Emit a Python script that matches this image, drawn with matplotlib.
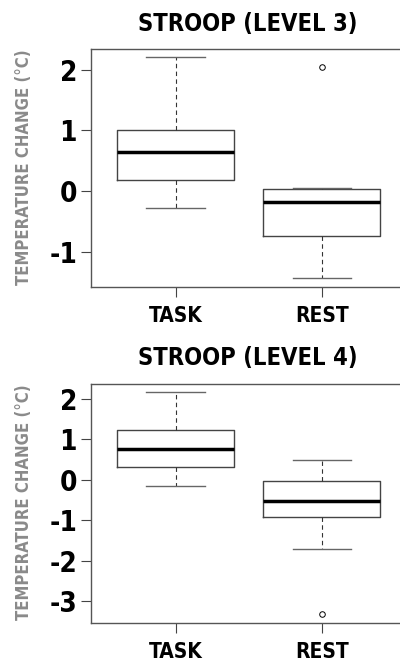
import matplotlib
matplotlib.use("Agg")
import matplotlib.pyplot as plt
from matplotlib import font_manager

# box summaries (R-style boxplots)
groups = ["TASK", "REST"]

lvl3_whislo = [-0.275, -1.44]
lvl3_q1 = [0.175, -0.735]
lvl3_med = [0.65, -0.18]
lvl3_q3 = [1.0, 0.03]
lvl3_whishi = [2.2, 0.05]
lvl3_fliers = [[], [2.05]]

lvl4_whislo = [-0.157, -1.713]
lvl4_q1 = [0.313, -0.923]
lvl4_med = [0.766, -0.527]
lvl4_q3 = [1.22, -0.033]
lvl4_whishi = [2.158, 0.486]
lvl4_fliers = [[], [-3.32]]

# pick the narrowest bold face we can find
have = {(f.name, f.stretch) for f in font_manager.fontManager.ttflist}
names = {n for n, _ in have}
if "Liberation Sans Narrow" in names:
    FAM, STRETCH = "Liberation Sans Narrow", "normal"
elif ("DejaVu Sans", "condensed") in have or ("DejaVu Sans", 75) in have:
    FAM, STRETCH = "DejaVu Sans", "condensed"
else:
    FAM, STRETCH = "Liberation Sans", "normal"
plt.rcParams["font.family"] = [FAM, "DejaVu Sans"]
plt.rcParams["font.stretch"] = STRETCH
plt.rcParams["font.weight"] = "bold"


def make_stats(lo, q1, med, q3, hi, fl):
    return [dict(label=groups[i], whislo=lo[i], q1=q1[i], med=med[i],
                 q3=q3[i], whishi=hi[i], fliers=fl[i]) for i in range(len(groups))]


def panel(ax, stats, ylim, yticks):
    ax.bxp(stats, positions=[1, 2], widths=0.8, capwidths=0.4,
           boxprops=dict(color="#444444", linewidth=1.0),
           whiskerprops=dict(color="#333333", linewidth=0.8, linestyle=(0, (4, 3))),
           capprops=dict(color="#666666", linewidth=1.0),
           medianprops=dict(color="black", linewidth=2.5),
           flierprops=dict(marker="o", markersize=4, markerfacecolor="none",
                           markeredgecolor="black", markeredgewidth=0.7))
    ax.set_xlim(0.42, 2.58)
    ax.set_ylim(*ylim)
    ax.set_yticks(yticks)
    ax.set_yticklabels([str(t) for t in yticks], fontsize=20, fontweight="bold",
                       fontstretch=STRETCH)
    ax.set_xticks([1, 2])
    ax.set_xticklabels(groups, fontsize=15, fontweight="bold", fontstretch=STRETCH)
    for s in ax.spines.values():
        s.set_visible(True)
        s.set_color("#555555")
        s.set_linewidth(1.0)
    ax.tick_params(axis="y", length=7, width=0.8, color="#444444", pad=3)
    ax.tick_params(axis="x", length=7, width=0.8, color="#444444", pad=7)


fig = plt.figure(figsize=(4, 6.61), dpi=100)

ax1 = fig.add_axes([0.2275, 0.5663, 0.7885, 0.3596])
panel(ax1, make_stats(lvl3_whislo, lvl3_q1, lvl3_med, lvl3_q3, lvl3_whishi, lvl3_fliers),
      (-1.577, 2.34), [-1, 0, 1, 2])

ax2 = fig.add_axes([0.2275, 0.0579, 0.7885, 0.3611])
panel(ax2, make_stats(lvl4_whislo, lvl4_q1, lvl4_med, lvl4_q3, lvl4_whishi, lvl4_fliers),
      (-3.534, 2.364), [-3, -2, -1, 0, 1, 2])

fig.text(0.62, 1 - 24 / 661, "STROOP (LEVEL 3)", ha="center", va="center",
         fontsize=17, fontweight="bold", fontstretch=STRETCH)
fig.text(0.62, 1 - 358 / 661, "STROOP (LEVEL 4)", ha="center", va="center",
         fontsize=17, fontweight="bold", fontstretch=STRETCH)

fig.text(24 / 400, 1 - 167 / 661, "TEMPERATURE CHANGE (°C)", rotation=90,
         ha="center", va="center", fontsize=12, fontweight="bold",
         fontstretch=STRETCH, color="#8a8a8a")
fig.text(24 / 400, 1 - 502 / 661, "TEMPERATURE CHANGE (°C)", rotation=90,
         ha="center", va="center", fontsize=12, fontweight="bold",
         fontstretch=STRETCH, color="#8a8a8a")

fig.savefig("out.png", dpi=100)
